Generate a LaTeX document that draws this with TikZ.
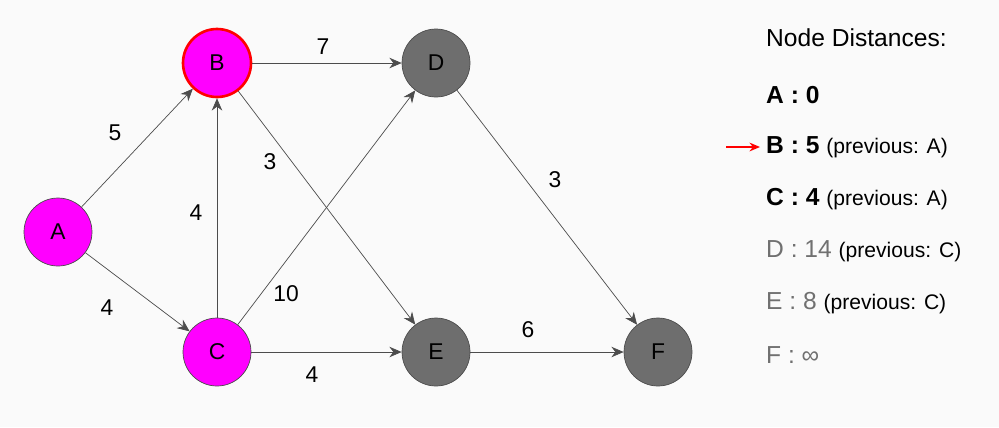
\documentclass[tikz,border=0pt]{standalone}
\usepackage{fontspec}
\setmainfont{Liberation Sans}
\usetikzlibrary{arrows.meta}
\definecolor{Visited}{RGB}{255,0,255}
\definecolor{Unvisited}{HTML}{6E6E6E}
\definecolor{Muted}{HTML}{707070}
\tikzset{
    vertex/.style={circle, draw=black!70, minimum size=1.36cm, inner sep=0pt, font=\fontsize{13}{15}\selectfont},
    done/.style={vertex, fill=Visited},
    open/.style={vertex, fill=Unvisited},
    edge/.style={draw=black!70, -{Stealth[length=7pt, width=6pt]}},
    weight/.style={font=\fontsize{13}{15}\selectfont},
    entry/.style={anchor=west, font=\fontsize{14}{16}\selectfont}
}
\newcommand{\prev}[1]{{\fontsize{12}{14}\selectfont(previous: #1)}}
\begin{document}
\begin{tikzpicture}[x=0.02cm, y=-0.02cm]

    \fill[black!2] (0,0) rectangle (999,427);

    % Knoten des Graphen
    \node[done] (A) at (58,232) {A};
    \node[done, draw=red, line width=1.5pt] (B) at (217,63) {B};
    \node[done] (C) at (217,352) {C};
    \node[open] (D) at (436,63) {D};
    \node[open] (E) at (436,352) {E};
    \node[open] (F) at (658,352) {F};

    % Kanten mit Gewichten
    \draw[edge] (A) -- (B);
    \draw[edge] (A) -- (C);
    \draw[edge] (C) -- (B);
    \draw[edge] (B) -- (D);
    \draw[edge] (B) -- (E);
    \draw[edge] (C) -- (D);
    \draw[edge] (C) -- (E);
    \draw[edge] (D) -- (F);
    \draw[edge] (E) -- (F);

    \node[weight] (wAB) at (115,133) {5};
    \node[weight] (wAC) at (107,308) {4};
    \node[weight] (wCB) at (196,213) {4};
    \node[weight] (wBE) at (270,162) {3};
    \node[weight] (wCD) at (286,294) {10};
    \node[weight] (wBD) at (323,47) {7};
    \node[weight] (wCE) at (312,375) {4};
    \node[weight] (wDF) at (555,180) {3};
    \node[weight] (wEF) at (528,330) {6};

    % Tabelle der Abstände
    \node[entry] (title) at (760,38) {Node Distances:};
    \node[entry] (dA) at (760,95) {\textbf{A : 0}};
    \node[entry] (dB) at (760,147) {\textbf{B : 5} \prev{A}};
    \node[entry] (dC) at (760,199) {\textbf{C : 4} \prev{A}};
    \node[entry, text=Muted] (dD) at (760,251) {D : 14 {\color{black}\prev{C}}};
    \node[entry, text=Muted] (dE) at (760,303) {E : 8 {\color{black}\prev{C}}};
    \node[entry, text=Muted] (dF) at (760,355) {F : ∞};

    \coordinate (mark) at (726,147);
    \draw[red, line width=0.8pt, -{Stealth[length=6pt, width=5pt]}] (mark) -- (dB.west);
\end{tikzpicture}
\end{document}
